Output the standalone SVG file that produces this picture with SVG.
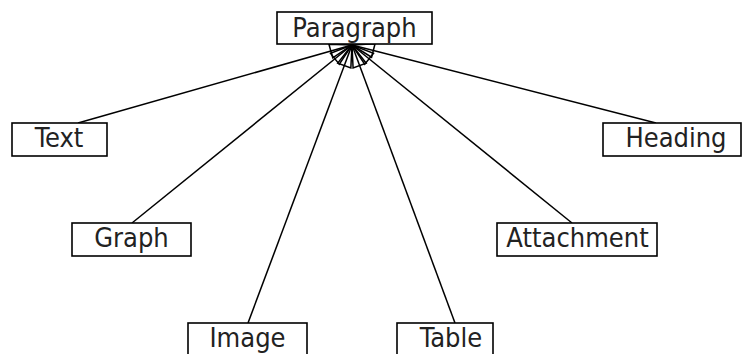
<svg xmlns="http://www.w3.org/2000/svg" width="743" height="354" viewBox="0 0 743 354">
<style>
.box{fill:#fff;stroke:#000;stroke-width:1.6}
.lbl{font-family:"DejaVu Sans Condensed","DejaVu Sans",sans-serif;font-stretch:condensed;font-size:27px;fill:#222;text-anchor:middle}
.con{stroke:#000;stroke-width:1.5;fill:none}
</style>
<defs>
<marker id="gen" markerUnits="userSpaceOnUse" markerWidth="40" markerHeight="40" refX="0" refY="0" orient="auto" overflow="visible">
<path d="M0,0 L-22,-7 L-22,7 Z" fill="none" stroke="#000" stroke-width="1.5"/>
</marker>
</defs>
<rect width="743" height="354" fill="#fff"/>
<g id="connectors">
<line class="con" x1="78" y1="123" x2="352" y2="45" marker-end="url(#gen)"/>
<line class="con" x1="656" y1="123" x2="352" y2="45" marker-end="url(#gen)"/>
<line class="con" x1="132" y1="223" x2="352" y2="45" marker-end="url(#gen)"/>
<line class="con" x1="572" y1="223" x2="352" y2="45" marker-end="url(#gen)"/>
<line class="con" x1="248" y1="323" x2="352" y2="45" marker-end="url(#gen)"/>
<line class="con" x1="455" y1="323" x2="352" y2="45" marker-end="url(#gen)"/>
</g>
<g id="paragraph"><rect class="box" x="277" y="12" width="155" height="32"/><text class="lbl" x="354.5" y="36.5">Paragraph</text></g>
<g id="text"><rect class="box" x="12" y="123" width="95" height="33"/><text class="lbl" x="59" y="146.5">Text</text></g>
<g id="heading"><rect class="box" x="603" y="123" width="138" height="33"/><text class="lbl" x="676" y="146.5">Heading</text></g>
<g id="graph"><rect class="box" x="72" y="223" width="119" height="33"/><text class="lbl" x="131.5" y="246.5">Graph</text></g>
<g id="attachment"><rect class="box" x="497" y="223" width="160" height="33"/><text class="lbl" x="577.5" y="246.5">Attachment</text></g>
<g id="image"><rect class="box" x="188" y="323" width="119" height="40"/><text class="lbl" x="247.5" y="346.5">Image</text></g>
<g id="table"><rect class="box" x="397" y="323" width="96" height="40"/><text class="lbl" x="451" y="346.5">Table</text></g>
</svg>
